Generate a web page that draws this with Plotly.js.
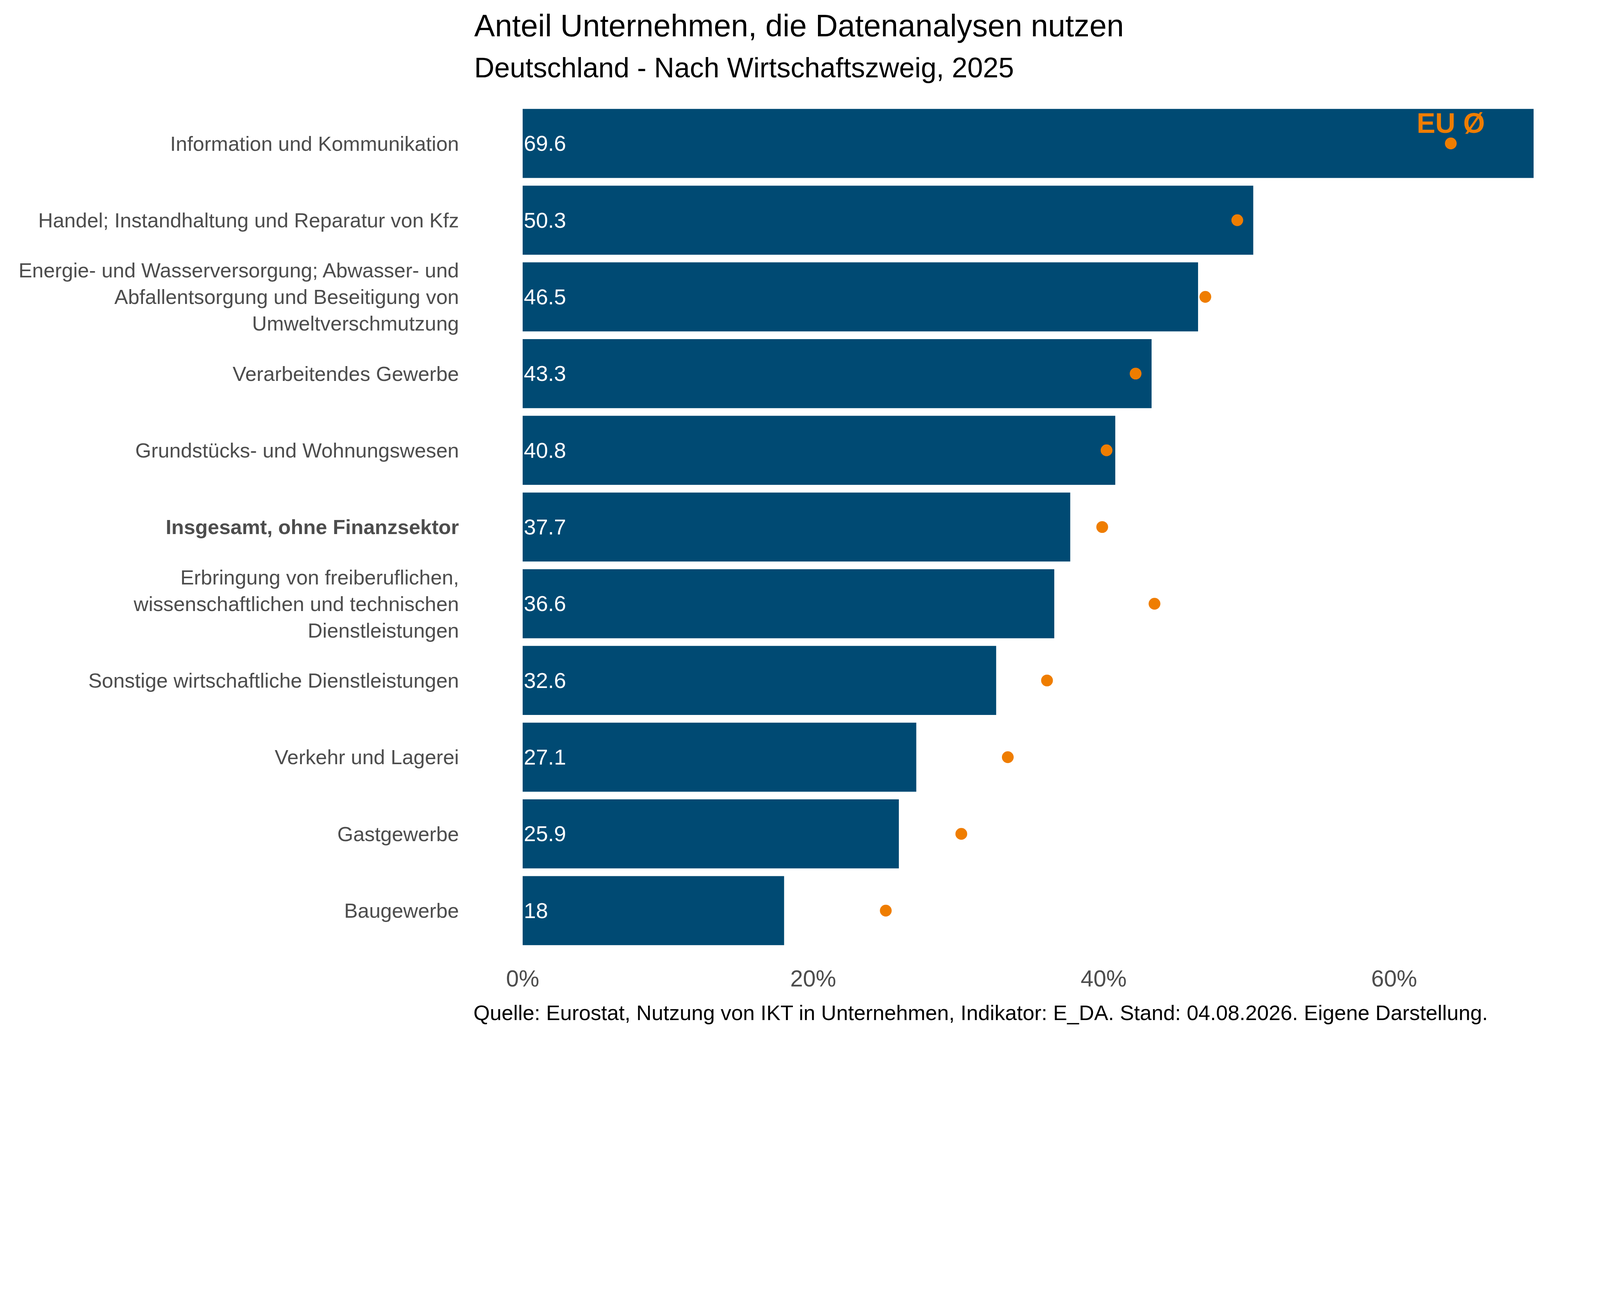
<!DOCTYPE html>
<html>
<head>
<meta charset="utf-8">
<script src="https://cdn.plot.ly/plotly-3.0.1.min.js"></script>
<style>
  html, body { margin: 0; padding: 0; background: #ffffff; overflow: hidden; }
</style>
</head>
<body>
<div id="chart"></div>
<script>
// Branches from top to bottom
const sectors = [
    'Information und Kommunikation',
    'Handel; Instandhaltung und Reparatur von Kfz',
    'Energie- und Wasserversorgung; Abwasser- und<br>Abfallentsorgung und Beseitigung von<br>Umweltverschmutzung',
    'Verarbeitendes Gewerbe',
    'Grundstücks- und Wohnungswesen',
    '<b>Insgesamt, ohne Finanzsektor</b>',
    'Erbringung von freiberuflichen,<br>wissenschaftlichen und technischen<br>Dienstleistungen',
    'Sonstige wirtschaftliche Dienstleistungen',
    'Verkehr und Lagerei',
    'Gastgewerbe',
    'Baugewerbe'
]
// Deutschland, share in %
const deValues = [69.6, 50.3, 46.5, 43.3, 40.8, 37.7, 36.6, 32.6, 27.1, 25.9, 18]
// EU average, share in %
const euValues = [63.9, 49.2, 47.0, 42.2, 40.2, 39.9, 43.5, 36.1, 33.4, 30.2, 25.0]
const euLabel = 'EU Ø'
const xTicks = [0, 20, 40, 60]
const xTickLabels = ['0%', '20%', '40%', '60%']

const barColor = '#004a73'
const dotColor = '#ef7d00'
const fontFamily = 'Liberation Sans, Arial, sans-serif'

// the design is laid out for 5160 x 3348, scale it to whatever the window really is
const W = 5160, H = 3348
const S = Math.min(window.innerWidth / W, window.innerHeight / H) || 1
const px = v => v * S
const ipx = v => Math.round(v * S)   // some plotly attributes only take integers

const bars = {
    type: 'bar',
    orientation: 'h',
    x: deValues,
    y: sectors,
    width: 0.9,
    marker: { color: barColor },
    text: deValues.map(v => String(v)),
    textposition: 'inside',
    insidetextanchor: 'start',
    textangle: 0,
    constraintext: 'none',
    textfont: { family: fontFamily, size: px(70), color: '#ffffff' },
    hoverinfo: 'skip',
    showlegend: false
}

const dots = {
    type: 'scatter',
    mode: 'markers',
    x: euValues,
    y: sectors,
    marker: { color: dotColor, size: px(38) },
    cliponaxis: false,
    hoverinfo: 'skip',
    showlegend: false
}

// "EU Ø" sits just above the first dot, an invisible smaller marker keeps it close
const euTag = {
    type: 'scatter',
    mode: 'markers+text',
    x: [euValues[0]],
    y: [sectors[0]],
    marker: { color: dotColor, size: px(16), opacity: 0 },
    text: [euLabel],
    textposition: 'top center',
    textfont: { family: fontFamily, size: px(90), color: dotColor, weight: 'bold' },
    cliponaxis: false,
    hoverinfo: 'skip',
    showlegend: false
}

const layout = {
    width: px(W),
    height: px(H),
    paper_bgcolor: '#ffffff',
    plot_bgcolor: '#ffffff',
    margin: { l: px(1685), r: px(214), t: px(339), b: px(288), pad: 0 },
    font: { family: fontFamily, color: '#4d4d4d' },
    xaxis: {
        range: [0, Math.max(...deValues)],
        tickvals: xTicks,
        ticktext: xTickLabels,
        showgrid: false,
        zeroline: false,
        showline: false,
        ticks: '',
        ticklabelstandoff: ipx(45),
        tickfont: { family: fontFamily, size: px(74), color: '#4d4d4d' },
        fixedrange: true
    },
    yaxis: {
        type: 'category',
        categoryorder: 'array',
        categoryarray: sectors,
        range: [sectors.length - 0.5, -0.5],
        showgrid: false,
        zeroline: false,
        showline: false,
        ticks: '',
        ticklabelstandoff: ipx(204),
        tickfont: { family: fontFamily, size: px(66), color: '#4d4d4d' },
        fixedrange: true
    },
    annotations: [
        {
            text: 'Anteil Unternehmen, die Datenanalysen nutzen',
            xref: 'paper', yref: 'paper',
            x: -0.0488, y: 1.0944,
            xanchor: 'left', yanchor: 'middle',
            showarrow: false,
            font: { family: fontFamily, size: px(100), color: '#000000' }
        },
        {
            text: 'Deutschland - Nach Wirtschaftszweig, 2025',
            xref: 'paper', yref: 'paper',
            x: -0.0488, y: 1.0445,
            xanchor: 'left', yanchor: 'middle',
            showarrow: false,
            font: { family: fontFamily, size: px(90), color: '#000000' }
        },
        {
            text: 'Quelle: Eurostat, Nutzung von IKT in Unternehmen, Indikator: E_DA. Stand: 04.08.2026. Eigene Darstellung.',
            xref: 'paper', yref: 'paper',
            x: -0.0494, y: -0.0753,
            xanchor: 'left', yanchor: 'middle',
            showarrow: false,
            font: { family: fontFamily, size: px(68), color: '#000000' }
        }
    ]
}

Plotly.newPlot('chart', [bars, dots, euTag], layout, { displayModeBar: false, staticPlot: true })
</script>
</body>
</html>
